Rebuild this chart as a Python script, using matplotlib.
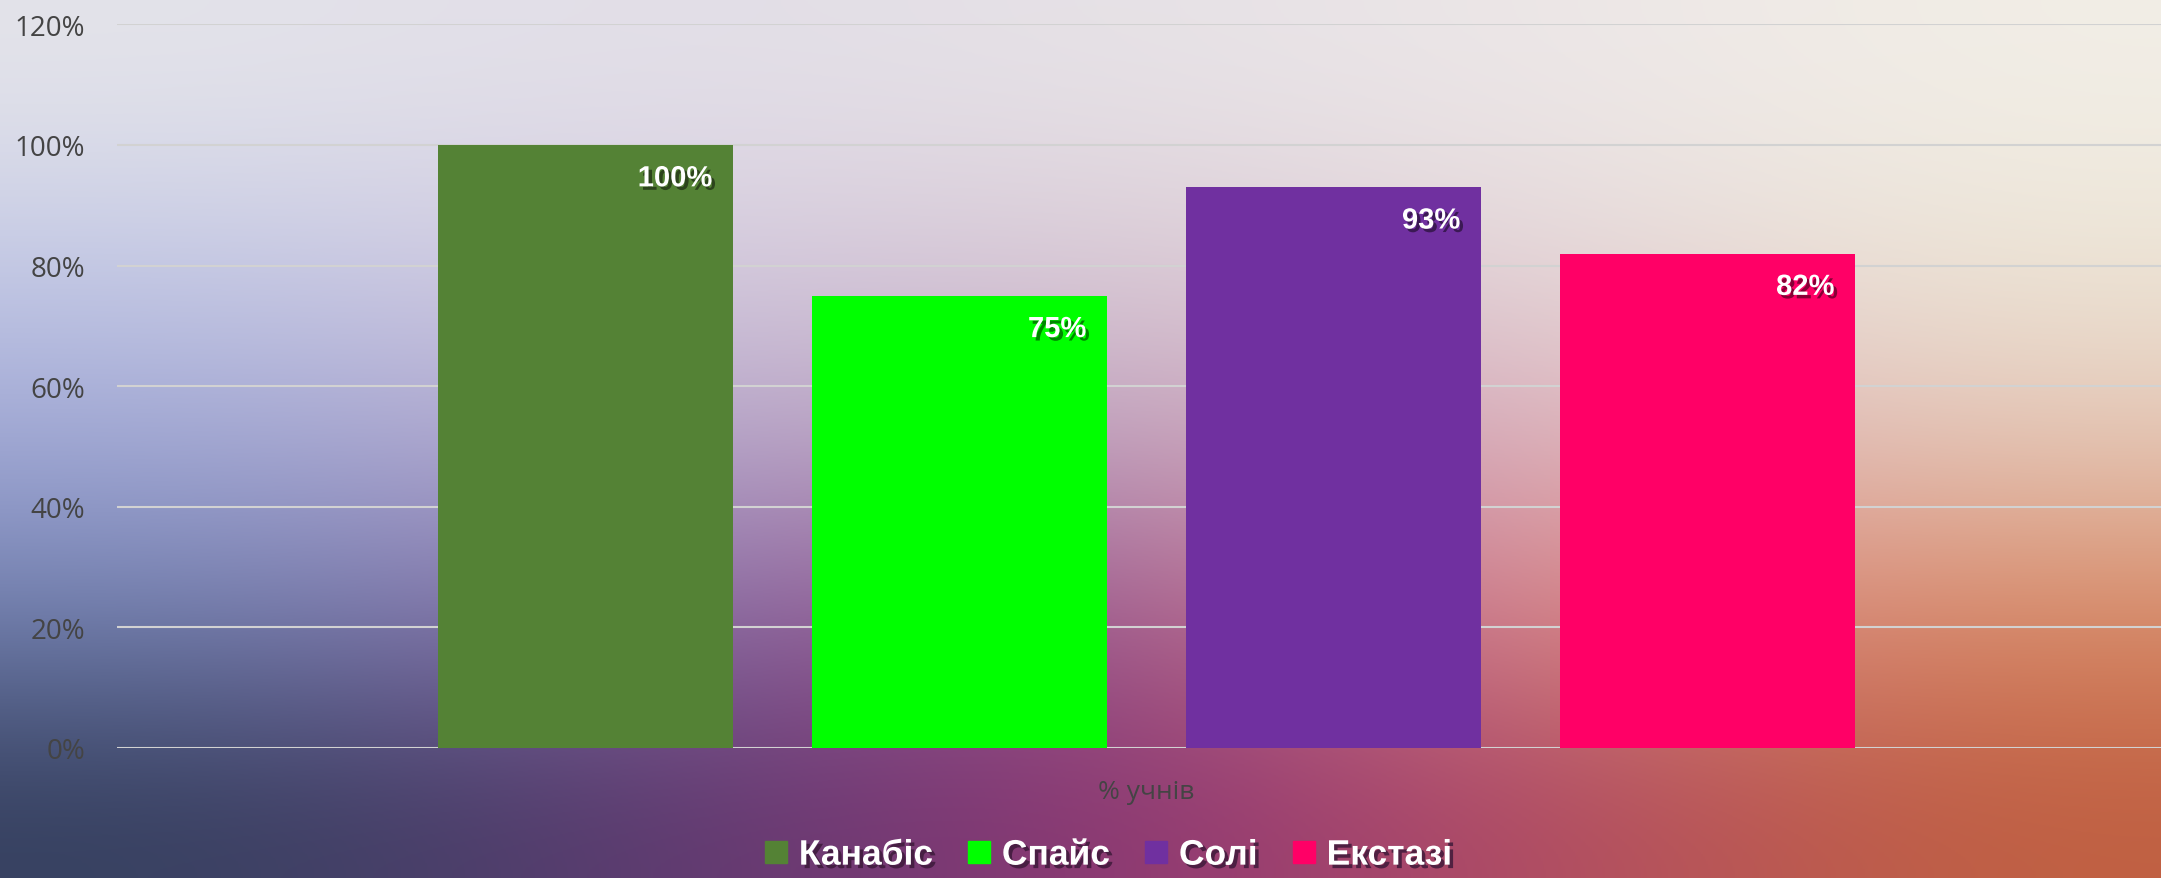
import numpy as np
import matplotlib
matplotlib.use('Agg')
import matplotlib.pyplot as plt
import matplotlib.patheffects as pe
from matplotlib.colors import to_rgb
from matplotlib.lines import Line2D

# data
series = ["Канабіс", "Спайс", "Солі", "Екстазі"]
values = [1.00, 0.75, 0.93, 0.82]
value_labels = ["100%", "75%", "93%", "82%"]
colors = ["#548235", "#00ff00", "#7030a0", "#ff0066"]
category = "% учнів"
yticks = [0, 0.2, 0.4, 0.6, 0.8, 1.0, 1.2]
ytick_labels = ["0%", "20%", "40%", "60%", "80%", "100%", "120%"]

# rough colours of the polygon background, top row first
bg_rows = [
    ["#e4e4ea", "#e2dee8", "#e6e2e6", "#ece6e8", "#f2eee6"],
    ["#c4cae6", "#d6cce0", "#d8c8d4", "#e4d6da", "#ede6d6"],
    ["#a0a8d6", "#b8a8cc", "#bca0bc", "#dcaabc", "#e4c8b8"],
    ["#7080b0", "#8a6ea8", "#985088", "#e08890", "#d88a64"],
    ["#34405e", "#5a3a70", "#8a3474", "#b04a68", "#c06040"],
]

label_font = ["Liberation Sans Narrow", "Liberation Sans", "DejaVu Sans"]
tick_font = ["Open Sans", "DejaVu Sans"]

fig = plt.figure(figsize=(21.61, 8.79), dpi=100)

bg = fig.add_axes([0, 0, 1, 1], zorder=-10)
bg.imshow(np.array([[to_rgb(c) for c in row] for row in bg_rows]),
          aspect="auto", interpolation="bicubic", extent=[0, 1, 0, 1])
bg.axis("off")

ax = fig.add_axes([117 / 2161, 1 - 749 / 879, 2059 / 2161, (749 - 25.4) / 879])
ax.set_facecolor("none")

x = np.arange(len(series))
w = 0.789
bars = ax.bar(x, values, width=w, color=colors, zorder=3)

for xi, v, lab, c in zip(x, values, value_labels, colors):
    shade = tuple(0.5 * np.array(to_rgb(c)))
    t = ax.annotate(lab, xy=(xi + w / 2, v), xytext=(-15, -24),
                    textcoords="offset points", ha="right", va="center",
                    fontsize=21, fontweight="bold", color="white",
                    family=label_font, zorder=5)
    t.set_path_effects([pe.withSimplePatchShadow(offset=(2.5, -2.5),
                                                 shadow_rgbFace=shade, alpha=0.95)])

ax.set_xlim(-1.2527, 4.2527)
ax.set_ylim(0, 1.2)
ax.set_yticks(yticks)
ax.set_yticklabels(ytick_labels, family=tick_font, fontsize=20, color="#444444")
ax.set_xticks([])
ax.tick_params(axis="y", length=0, pad=23)
ax.yaxis.grid(True, color="#d2d2d2", linewidth=1.5, zorder=0)
ax.set_axisbelow(True)
for s in ax.spines.values():
    s.set_visible(False)

ax.set_xlabel(category, family=tick_font, fontsize=19, color="#444444", labelpad=22)

handles = [Line2D([], [], marker="s", linestyle="none", markersize=15.8,
                  markerfacecolor=c, markeredgecolor=c) for c in colors]
leg = fig.legend(handles, series, loc="center", bbox_to_anchor=(0.513, 0.026),
                 ncol=4, frameon=False, handlelength=0.6, handletextpad=0.35,
                 columnspacing=1.0, borderpad=0,
                 prop={"family": label_font, "size": 25.5, "weight": "bold"})
for t in leg.get_texts():
    t.set_color("white")
    t.set_path_effects([pe.withSimplePatchShadow(offset=(2.5, -2.5),
                                                 shadow_rgbFace="#3a1838", alpha=0.8)])

fig.savefig("out.png", dpi=100)
